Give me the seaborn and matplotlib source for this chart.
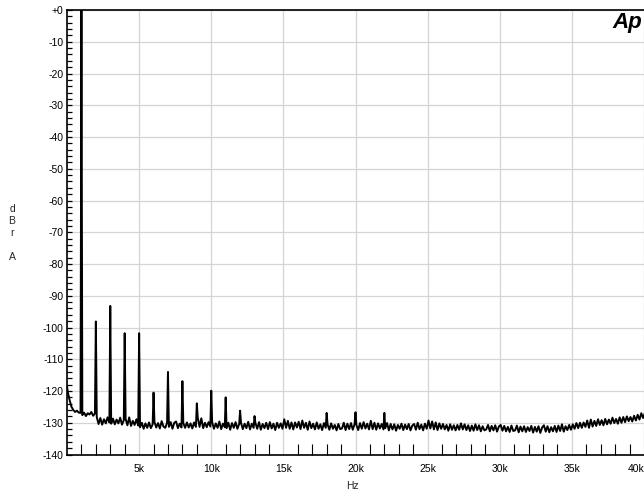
import matplotlib
matplotlib.use("Agg")
import matplotlib.pyplot as plt
import seaborn as sns
import pandas as pd
from matplotlib.ticker import FixedLocator

# ---- data ----
# noise floor samples every 125 Hz starting at 62.5 Hz (plus DC point)
noise_start_db = -118.5
noise_db = [
    -120.5, -123.0, -125.0, -126.0, -126.6, -126.2, -126.8, -126.9,  # 0-1k
    -127.6, -126.8, -127.9, -127.0, -127.4, -126.6, -127.8, -127.1,  # 1-2k
    -128.2, -130.4, -128.5, -130.6, -128.9, -130.2, -128.3, -129.9,  # 2-3k
    -130.3, -128.7, -130.5, -129.0, -130.2, -128.4, -130.6, -129.2,  # 3-4k
    -128.8, -130.8, -128.3, -131.0, -129.4, -130.7, -128.9, -130.9,  # 4-5k
    -131.4, -130.0, -131.9, -130.2, -131.6, -129.9, -131.7, -130.5,  # 5-6k
    -129.8, -131.5, -130.1, -131.8, -129.5, -131.2, -131.6, -130.0,  # 6-7k
    -131.3, -129.8, -131.9, -130.0, -129.6, -131.7, -130.3, -131.5,  # 7-8k
    -130.1, -131.6, -129.9, -131.5, -130.2, -131.8, -129.9, -131.3,  # 8-9k
    -128.3, -131.3, -128.6, -131.7, -130.0, -131.4, -129.8, -131.2,  # 9-10k
    -129.8, -131.9, -130.2, -131.6, -129.6, -132.0, -130.3, -131.4,  # 10-11k
    -131.7, -130.0, -132.2, -130.1, -131.6, -129.8, -131.9, -130.4,  # 11-12k
    -130.0, -132.0, -130.3, -131.7, -129.7, -132.1, -130.3, -131.6,  # 12-13k
    -130.1, -131.9, -129.8, -132.2, -130.4, -131.7, -130.0, -132.0,  # 13-14k
    -129.8, -131.8, -130.3, -132.3, -130.0, -131.6, -130.2, -131.9,  # 14-15k
    -128.9, -131.6, -129.4, -131.9, -129.9, -132.1, -129.9, -131.5,  # 15-16k
    -129.7, -132.0, -129.3, -131.6, -130.0, -132.2, -129.6, -131.7,  # 16-17k
    -130.3, -132.1, -129.9, -131.9, -130.5, -132.3, -130.1, -131.6,  # 17-18k
    -130.5, -132.2, -130.2, -131.9, -130.7, -132.4, -130.4, -132.0,  # 18-19k
    -131.8, -130.0, -132.3, -130.3, -132.0, -130.1, -132.2, -130.4,  # 19-20k
    -130.7, -132.3, -130.1, -131.9, -129.8, -131.8, -130.3, -132.1,  # 20-21k
    -129.4, -132.0, -130.0, -132.2, -130.2, -131.8, -130.4, -132.1,  # 21-22k
    -131.7, -130.1, -132.4, -130.4, -132.1, -130.5, -132.5, -130.7,  # 22-23k
    -131.9, -130.3, -132.3, -130.6, -132.0, -130.4, -132.4, -130.9,  # 23-24k
    -130.4, -132.2, -130.0, -132.0, -130.6, -132.4, -130.3, -131.9,  # 24-25k
    -129.3, -131.8, -129.6, -132.1, -129.9, -132.3, -130.2, -131.9,  # 25-26k
    -130.4, -132.1, -130.7, -132.5, -130.5, -132.2, -130.8, -132.4,  # 26-27k
    -130.7, -132.2, -130.2, -132.1, -130.5, -132.3, -130.8, -132.6,  # 27-28k
    -130.9, -132.5, -130.5, -132.3, -130.8, -132.7, -131.1, -132.4,  # 28-29k
    -132.1, -130.7, -132.7, -131.0, -132.4, -130.8, -132.8, -131.2,  # 29-30k
    -130.7, -132.5, -131.0, -132.7, -131.3, -132.9, -130.9, -132.6,  # 30-31k
    -132.4, -130.9, -133.0, -131.2, -132.7, -131.1, -132.9, -131.4,  # 31-32k
    -132.6, -131.0, -133.1, -131.3, -132.8, -131.1, -133.2, -131.5,  # 32-33k
    -130.8, -132.8, -131.1, -133.0, -131.4, -132.7, -131.0, -132.9,  # 33-34k
    -130.9, -132.6, -130.5, -132.8, -131.1, -132.3, -130.7, -132.2,  # 34-35k
    -130.5, -131.9, -130.1, -131.7, -130.0, -131.6, -129.9, -131.3,  # 35-36k
    -129.3, -131.6, -129.0, -131.2, -129.4, -131.0, -128.9, -130.7,  # 36-37k
    -129.2, -130.8, -128.8, -130.5, -129.0, -130.3, -128.4, -130.1,  # 37-38k
    -128.8, -130.3, -128.3, -130.0, -128.2, -129.8, -128.0, -129.5,  # 38-39k
    -128.2, -129.6, -127.8, -129.3, -127.5, -129.0, -127.0, -128.5,  # 39-40k
    -126.9, -128.0, -126.6, -127.5,                                  # 40k+
]
noise_freq = [0.0] + [62.5 + 125 * i for i in range(len(noise_db))]

harm_freq = [1000, 2000, 3000, 4000, 5000, 6000, 7000, 8000, 9000,
             10000, 11000, 12000, 13000, 18000, 20000, 22000]
harm_db = [0.0, -98.1, -93.2, -101.8, -101.8, -120.5, -114.0, -116.9, -123.9,
           -119.9, -122.0, -126.2, -127.9, -126.9, -126.7, -126.9]

y_ticks = [0, -10, -20, -30, -40, -50, -60, -70, -80, -90, -100, -110, -120, -130, -140]
y_labels = ["+0", "-10", "-20", "-30", "-40", "-50", "-60", "-70", "-80", "-90",
            "-100", "-110", "-120", "-130", "-140"]
x_ticks = [5000, 10000, 15000, 20000, 25000, 30000, 35000, 40000]
x_labels = ["5k", "10k", "15k", "20k", "25k", "30k", "35k", "40k"]

# ---- build table ----
df = pd.DataFrame({
    "freq": noise_freq + harm_freq,
    "level": [noise_start_db] + noise_db + harm_db,
}).sort_values("freq").reset_index(drop=True)

sns.set_style("white")
plt.rcParams["font.family"] = ["Liberation Sans", "DejaVu Sans"]

fig = plt.figure(figsize=(6.44, 4.94), dpi=100)
W, H = 644.0, 494.0
ax = fig.add_axes([67 / W, 39.5 / H, 1 - 67 / W, 444.5 / H])

sns.lineplot(data=df, x="freq", y="level", ax=ax, color="black", lw=1.4,
             estimator=None, sort=True)

ax.set_xlim(0, 40000)
ax.set_ylim(-140, 0)

ax.set_axisbelow(True)
ax.set_xticks(x_ticks)
ax.set_xticklabels(x_labels)
ax.set_yticks(y_ticks)
ax.set_yticklabels(y_labels)
ax.grid(True, which="major", color="#d4d4d4", lw=0.9)

ax.xaxis.set_minor_locator(FixedLocator([k * 1000 for k in range(1, 41) if k % 5]))
ax.yaxis.set_minor_locator(FixedLocator([-v for v in range(2, 140, 2) if v % 10]))

ax.tick_params(axis="x", which="major", length=0, pad=6.5, labelsize=7.5, colors="black")
ax.tick_params(axis="x", which="minor", direction="in", length=8, width=0.8, color="black", bottom=True)
ax.tick_params(axis="y", which="both", direction="in", length=3.6, width=0.9, color="black", left=True)
ax.tick_params(axis="y", which="major", pad=2.5, labelsize=7.5, labelcolor="black")

labs = ax.get_xticklabels()
labs[-1].set_ha("right")

for s in ["top", "left", "bottom"]:
    ax.spines[s].set_visible(True)
    ax.spines[s].set_color("black")
    ax.spines[s].set_linewidth(1.2)
ax.spines["right"].set_visible(False)

ax.set_xlabel("Hz", fontsize=7.5)
ax.xaxis.set_label_coords(0.494, (454.5 - 486) / 444.5)
ax.xaxis.label.set_va("center")
ax.set_ylabel("")

fig.text(12 / W, 1 - 233 / H, "d\nB\nr\n\nA", ha="center", va="center",
         fontsize=7.5, linespacing=1.22, multialignment="center")

fig.text(612 / W, 1 - 28.3 / H, "Ap", ha="left", va="baseline", fontsize=16,
         fontweight="heavy", fontstyle="italic", color="black")

fig.savefig("out.png", dpi=100)
